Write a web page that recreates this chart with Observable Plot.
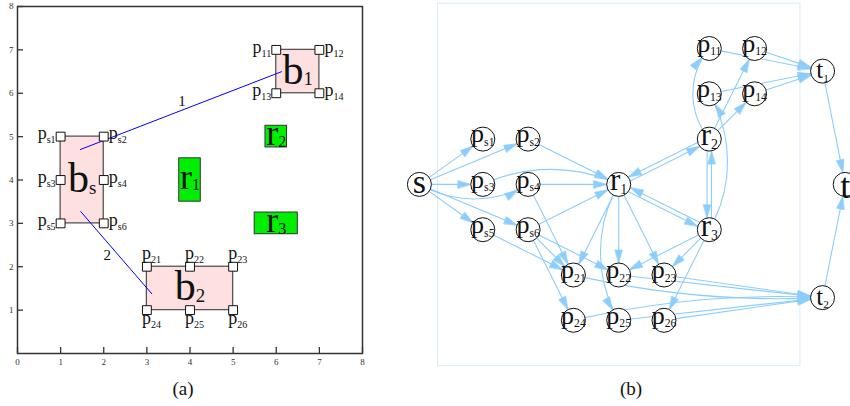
<!DOCTYPE html>
<html><head><meta charset="utf-8">
<script src="https://cdn.jsdelivr.net/npm/d3@7"></script>
<script src="https://cdn.jsdelivr.net/npm/@observablehq/plot@0.6"></script>
<style>
body{margin:0;background:#fff;}
#wrap{position:relative;width:850px;height:406px;overflow:hidden;font-family:"Liberation Serif",serif;background:#fff;}
#pa{position:absolute;left:0;top:0;}
#pb{position:absolute;left:400px;top:0;}
.cap{position:absolute;top:379px;font-size:19px;line-height:20px;transform:translateX(-50%);color:#111;}
</style></head><body>
<div id="wrap"><div id="pa"></div><div id="pb"></div>
<div class="cap" style="left:183px">(a)</div><div class="cap" style="left:631px">(b)</div></div>
<script>
// ---------- data: panel (a) ----------
const xTicks = [0, 1, 2, 3, 4, 5, 6, 7, 8];
const yTicks = [1, 2, 3, 4, 5, 6, 7, 8];
const buildings = [
  {name: "b_s", x1: 1, x2: 2, y1: 3, y2: 5},
  {name: "b_1", x1: 6, x2: 7, y1: 6, y2: 7},
  {name: "b_2", x1: 3, x2: 5, y1: 1, y2: 2}
];
const regions = [
  {name: "r_1", x1: 3.75, x2: 4.25, y1: 3.5, y2: 4.5},
  {name: "r_2", x1: 5.75, x2: 6.25, y1: 4.75, y2: 5.25},
  {name: "r_3", x1: 5.5, x2: 6.5, y1: 2.75, y2: 3.25}
];
const ports = [
  {name: "p_s1", box: "b_s", x: 1, y: 5}, {name: "p_s2", box: "b_s", x: 2, y: 5},
  {name: "p_s3", box: "b_s", x: 1, y: 4}, {name: "p_s4", box: "b_s", x: 2, y: 4},
  {name: "p_s5", box: "b_s", x: 1, y: 3}, {name: "p_s6", box: "b_s", x: 2, y: 3},
  {name: "p_11", box: "b_1", x: 6, y: 7}, {name: "p_12", box: "b_1", x: 7, y: 7},
  {name: "p_13", box: "b_1", x: 6, y: 6}, {name: "p_14", box: "b_1", x: 7, y: 6},
  {name: "p_21", box: "b_2", x: 3, y: 2}, {name: "p_22", box: "b_2", x: 4, y: 2},
  {name: "p_23", box: "b_2", x: 5, y: 2}, {name: "p_24", box: "b_2", x: 3, y: 1},
  {name: "p_25", box: "b_2", x: 4, y: 1}, {name: "p_26", box: "b_2", x: 5, y: 1}
];
const routes = [
  {label: "1", x1: 1.45, y1: 4.7, x2: 6.13, y2: 6.5},
  {label: "2", x1: 1.46, y1: 3.28, x2: 3.12, y2: 1.37}
];

// ---------- data: panel (b) ----------
const nodes = [
  {id: "s", label: "s", col: -0.4, row: 3},
  {id: "ps1", label: "p_s1", col: 1, row: 2}, {id: "ps2", label: "p_s2", col: 2, row: 2},
  {id: "ps3", label: "p_s3", col: 1, row: 3}, {id: "ps4", label: "p_s4", col: 2, row: 3},
  {id: "ps5", label: "p_s5", col: 1, row: 4}, {id: "ps6", label: "p_s6", col: 2, row: 4},
  {id: "r1", label: "r_1", col: 4, row: 3}, {id: "r2", label: "r_2", col: 6, row: 2},
  {id: "r3", label: "r_3", col: 6, row: 4},
  {id: "p11", label: "p_11", col: 6, row: 0}, {id: "p12", label: "p_12", col: 7, row: 0},
  {id: "p13", label: "p_13", col: 6, row: 1}, {id: "p14", label: "p_14", col: 7, row: 1},
  {id: "p21", label: "p_21", col: 3, row: 5}, {id: "p22", label: "p_22", col: 4, row: 5},
  {id: "p23", label: "p_23", col: 5, row: 5}, {id: "p24", label: "p_24", col: 3, row: 6},
  {id: "p25", label: "p_25", col: 4, row: 6}, {id: "p26", label: "p_26", col: 5, row: 6},
  {id: "t1", label: "t_1", col: 8.5, row: 0.5}, {id: "t2", label: "t_2", col: 8.5, row: 5.5},
  {id: "t", label: "t", col: 9, row: 3}
];
const edges = [
  ["s","ps1"],["s","ps2"],["s","ps3"],["s","ps4"],["s","ps5"],["s","ps6"],
  ["ps2","r1"],["ps3","r1"],["ps4","r1"],["ps6","r1"],
  ["ps4","p21"],["ps5","p21"],["ps6","p21"],["ps6","p22"],["ps6","p24"],
  ["r1","r2"],["r2","r1"],["r1","r3"],["r3","r1"],["r2","r3"],["r3","r2"],
  ["r1","p21"],["r1","p22"],["r1","p23"],["r1","p25"],
  ["r3","p22"],["r3","p23"],["r3","p26"],
  ["r2","p11"],["r2","p12"],["r2","p14"],["r3","p13"],
  ["p11","t1"],["p12","t1"],["p13","t1"],["p14","t1"],
  ["p21","t2"],["p22","t2"],["p23","t2"],["p24","t2"],["p25","t2"],["p26","t2"],
  ["t1","t"],["t2","t"]
];

// ---------- styling ----------
const serif = "Liberation Serif, serif";
const edgeColor = "#8ccdfc";
const bends = {"s>ps4": -30, "ps3>r1": 25, "r1>p25": -30, "r2>p11": 40, "r3>p13": -30, "p21>t2": -8, "p24>t2": 8};

// turn "x_y" text into x with a subscript y (kept as real SVG text)
function subscripts(svg, ratioFor) {
  svg.querySelectorAll("text").forEach(t => {
    const s = t.textContent, i = s.indexOf("_");
    if (i < 0) return;
    const g = t.closest("[font-size]");
    const size = g ? parseFloat(g.getAttribute("font-size")) : 12;
    const [ratio, shift] = ratioFor(size);
    t.textContent = s.slice(0, i);
    const ts = document.createElementNS("http://www.w3.org/2000/svg", "tspan");
    ts.setAttribute("font-size", ratio + "em");
    ts.setAttribute("dy", shift + "em");
    ts.textContent = s.slice(i + 1);
    t.appendChild(ts);
  });
}

// ---------- panel (a) ----------
const side = p => {
  const b = buildings.find(b => b.name === p.box);
  if (b.x2 - b.x1 > 1) return p.y === b.y2 ? "above" : "below";
  return p.x === b.x1 ? "left" : "right";
};
const mid = (d, a, b) => (d[a] + d[b]) / 2;
const txt = (data, o) => Plot.text(data, {x: "x", y: "y", text: "name", lineAnchor: "middle", fontSize: 18, ...o});

const chartA = Plot.plot({
  width: 370, height: 372, marginLeft: 17, marginRight: 8, marginTop: 6, marginBottom: 19,
  x: {domain: [0, 8]}, y: {domain: [0, 8]},
  style: {fontFamily: serif, background: "white", color: "#111"},
  marks: [
    Plot.rect(buildings, {x1: "x1", x2: "x2", y1: "y1", y2: "y2", fill: "#ffe0e0", stroke: "#555", strokeWidth: 1.3}),
    Plot.rect(regions, {x1: "x1", x2: "x2", y1: "y1", y2: "y2", fill: "#00ee00", stroke: "#333", strokeWidth: 1}),
    Plot.link(routes, {x1: "x1", y1: "y1", x2: "x2", y2: "y2", stroke: "#0000ff", strokeWidth: 1}),
    Plot.text(routes.filter(d => d.label === "1"), {x: d => mid(d, "x1", "x2"), y: d => mid(d, "y1", "y2"), text: "label", fontSize: 15, dx: 1, dy: -9}),
    Plot.text(routes.filter(d => d.label === "2"), {x: d => mid(d, "x1", "x2"), y: d => mid(d, "y1", "y2"), text: "label", fontSize: 15, dx: -9, dy: 3}),
    Plot.text(buildings, {x: d => mid(d, "x1", "x2"), y: d => mid(d, "y1", "y2"), text: "name", fontSize: 42, lineAnchor: "middle", dy: -1.5}),
    Plot.text(regions, {x: d => mid(d, "x1", "x2"), y: d => mid(d, "y1", "y2"), text: "name", fontSize: 36, lineAnchor: "middle", dy: -3}),
    Plot.dot(ports, {x: "x", y: "y", symbol: "square", r: 5, fill: "white", stroke: "#111", strokeWidth: 1}),
    txt(ports.filter(p => side(p) === "left"), {textAnchor: "end", dx: -5, dy: -3}),
    txt(ports.filter(p => side(p) === "right"), {textAnchor: "start", dx: 5, dy: -3}),
    txt(ports.filter(p => side(p) === "above"), {textAnchor: "start", dx: -5, dy: -14}),
    txt(ports.filter(p => side(p) === "below"), {textAnchor: "start", dx: -5, dy: 8}),
    Plot.frame({stroke: "#333", strokeWidth: 1.5}),
    Plot.axisX(xTicks, {tickSize: -6, tickPadding: 11, fontSize: 9, stroke: "#333", strokeWidth: 1.3, fill: "#333"}),
    Plot.axisY(yTicks, {tickSize: -6, tickPadding: 10, fontSize: 9, stroke: "#333", strokeWidth: 1.3, fill: "#333"})
  ]
});
subscripts(chartA, size => size >= 30 ? [0.45, 0.1] : [0.56, 0.4]);
document.getElementById("pa").appendChild(chartA);

// ---------- panel (b) ----------
const k = 45.3, R = 12;
const byId = new Map(nodes.map(n => [n.id, n]));
const edgeSet = new Set(edges.map(([a, b]) => a + ">" + b));
const links = edges.map(([a, b]) => {
  const A = byId.get(a), B = byId.get(b);
  let x1 = A.col, y1 = A.row, x2 = B.col, y2 = B.row;
  if (edgeSet.has(b + ">" + a)) {
    const L = Math.hypot(x2 - x1, y2 - y1), o = 2.2 / k;
    const nx = -(y2 - y1) / L * o, ny = (x2 - x1) / L * o;
    x1 += nx; y1 += ny; x2 += nx; y2 += ny;
  }
  const bend = bends[a + ">" + b] || 0;
  const phi = Math.atan2(y2 - y1, x2 - x1) + bend * Math.PI / 180;
  return {x1, y1, x2, y2, bend, ex: x2 - (R / k) * Math.cos(phi), ey: y2 - (R / k) * Math.sin(phi), rot: phi * 180 / Math.PI + 90};
});
const bendValues = [...new Set(links.map(d => d.bend))];
const headShape = {draw(ctx, l) { ctx.moveTo(0, -l); ctx.lineTo(-3.8, 0); ctx.lineTo(3.8, 0); ctx.closePath(); }};
const nodeText = (f, o) => Plot.text(nodes.filter(f), {x: "col", y: "row", text: "label", lineAnchor: "middle", ...o});

const chartB = Plot.plot({
  width: 450, height: 372, marginLeft: 37, marginRight: 50.6, marginTop: 2.7, marginBottom: 6.9,
  x: {domain: [0, 8], axis: null}, y: {domain: [-1, 7], reverse: true, axis: null},
  style: {fontFamily: serif, background: "white", color: "#111", overflow: "visible"},
  marks: [
    Plot.frame({stroke: "#d6ebfb", strokeWidth: 1}),
    ...bendValues.map(b => Plot.arrow(links.filter(d => d.bend === b), {
      x1: "x1", y1: "y1", x2: "x2", y2: "y2", bend: b, headLength: 0,
      insetStart: R, insetEnd: R, stroke: edgeColor, strokeWidth: 1.1
    })),
    Plot.vector(links, {x: "ex", y: "ey", rotate: "rot", length: 13, anchor: "end", shape: headShape,
      fill: edgeColor, stroke: edgeColor, strokeWidth: 0.6}),
    Plot.dot(nodes, {x: "col", y: "row", r: R, fill: "white", stroke: "#111", strokeWidth: 1}),
    nodeText(n => n.id === "s", {fontSize: 34, dy: -2}),
    nodeText(n => n.id === "t", {fontSize: 36, dy: 2}),
    nodeText(n => n.id[0] === "r", {fontSize: 31, dy: -4}),
    nodeText(n => n.id === "t1" || n.id === "t2", {fontSize: 25, dy: -1}),
    nodeText(n => n.id[0] === "p", {fontSize: 26, dy: -5})
  ]
});
subscripts(chartB, size => [0.45, 0.3]);
document.getElementById("pb").appendChild(chartB);
</script>
</body></html>
